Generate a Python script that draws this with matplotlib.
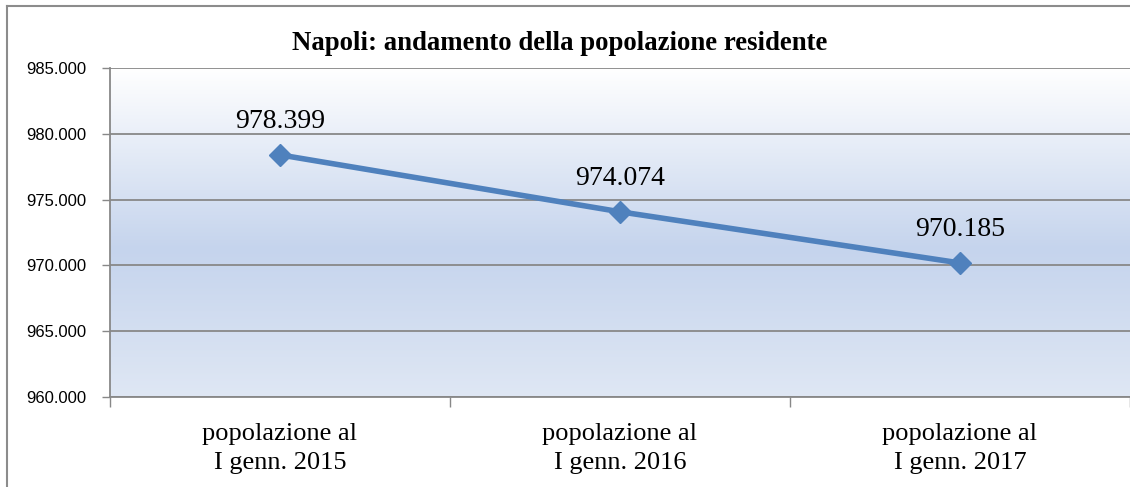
import matplotlib
matplotlib.use("Agg")
import matplotlib.pyplot as plt
import numpy as np
from matplotlib.colors import LinearSegmentedColormap

categories = ["popolazione al\nI genn. 2015", "popolazione al\nI genn. 2016", "popolazione al\nI genn. 2017"]
values = [978399, 974074, 970185]
value_labels = ["978.399", "974.074", "970.185"]
yticks = [960000, 965000, 970000, 975000, 980000, 985000]
ytick_labels = ["960.000", "965.000", "970.000", "975.000", "980.000", "985.000"]
title = "Napoli: andamento della popolazione residente"

W, H = 1130, 487
fig = plt.figure(figsize=(W / 100, H / 100), dpi=100)
ax = fig.add_axes([110 / W, 1 - 397 / H, (W - 110) / W, (397 - 68) / H])

# outer border
fig.add_artist(plt.Line2D([7 / W, 7 / W], [0, 1 - 6 / H], color="#8c8c8c", lw=1.5, transform=fig.transFigure))
fig.add_artist(plt.Line2D([7 / W, 1], [1 - 6 / H, 1 - 6 / H], color="#8c8c8c", lw=1.5, transform=fig.transFigure))

# gradient background
cmap = LinearSegmentedColormap.from_list("g", [(0, "#dfe7f4"), (0.45, "#c5d4ed"), (1.0, "#ffffff")])
grad = np.linspace(0, 1, 256).reshape(-1, 1)
ax.imshow(grad, cmap=cmap, aspect="auto", extent=[0, 1, 0, 1], origin="lower",
          transform=ax.transAxes, zorder=0)

x = np.arange(len(categories))
ax.plot(x, values, color="#4f81bd", lw=4, marker="D", markersize=11, zorder=3, clip_on=False)
for xi, v, lab in zip(x, values, value_labels):
    ax.annotate(lab, (xi, v), xytext=(0, 19.5), textcoords="offset points", ha="center", va="baseline",
                fontsize=20, family="Liberation Serif", color="black")

ax.set_xlim(-0.5, 2.5)
ax.set_ylim(960000, 985000)
ax.set_yticks(yticks)
ax.set_yticklabels(ytick_labels, fontsize=12, family="Liberation Sans")
ax.set_xticks(x)
ax.set_xticklabels(categories, fontsize=19, family="Liberation Serif", linespacing=1.42)
ax.set_xticks([-0.5, 0.5, 1.5, 2.5], minor=True)
ax.tick_params(axis="x", which="major", length=0, pad=18.5)
ax.tick_params(axis="x", which="minor", length=7, color="#888888", width=1)
ax.tick_params(axis="y", length=6, color="#888888", width=1, pad=11)
ax.grid(axis="y", color="#888888", lw=1.3, zorder=1)
ax.set_axisbelow(True)
for s in ["top", "right"]:
    ax.spines[s].set_visible(False)
for s in ["left", "bottom"]:
    ax.spines[s].set_color("#888888")
    ax.spines[s].set_linewidth(1.3)

fig.text(560 / W, 1 - 43 / H, title, ha="center", va="center", fontsize=19.3, fontweight="bold",
         family="Liberation Serif")

fig.savefig("out.png", dpi=100)
